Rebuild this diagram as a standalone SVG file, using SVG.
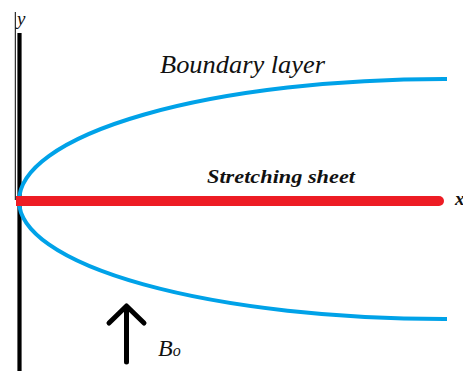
<svg xmlns="http://www.w3.org/2000/svg" width="463" height="371" viewBox="0 0 463 371">
<style>
.lbl{font-family:"Liberation Serif",serif;font-style:italic;fill:#111}
</style>
<rect width="463" height="371" fill="#fff"/>
<g id="axes">
<line x1="15.3" y1="12" x2="15.3" y2="200" stroke="#000" stroke-width="1"/>
<line x1="19.5" y1="33" x2="19.5" y2="371" stroke="#000" stroke-width="4.2"/>
<text class="lbl" x="17" y="25" font-size="19">y</text>
<text class="lbl" x="455" y="205" font-size="19" font-weight="bold">x</text>
</g>
<g id="boundary-layer">
<path d="M447,79 L444,79 A425,122 0 0 0 19,201 A425,118 0 0 0 444,319 L447,319" fill="none" stroke="#00a2e8" stroke-width="4"/>
</g>
<g id="stretching-sheet">
<line x1="21" y1="201" x2="439" y2="201" stroke="#ed1c24" stroke-width="10" stroke-linecap="round"/>
<rect x="16" y="196" width="6" height="10" fill="#ed1c24"/>
</g>
<g id="field-arrow">
<path d="M126.5,362 V308 M109,323 L126.5,306 L144,323" fill="none" stroke="#000" stroke-width="5" stroke-linecap="round" stroke-linejoin="round"/>
</g>
<g id="labels">
<text class="lbl" x="160" y="73" font-size="25" textLength="165" lengthAdjust="spacingAndGlyphs">Boundary layer</text>
<text class="lbl" x="207" y="183" font-size="19" font-weight="bold" textLength="148" lengthAdjust="spacingAndGlyphs">Stretching sheet</text>
<text class="lbl" x="158" y="356" font-size="24">B<tspan font-size="16">o</tspan></text>
</g>
</svg>
